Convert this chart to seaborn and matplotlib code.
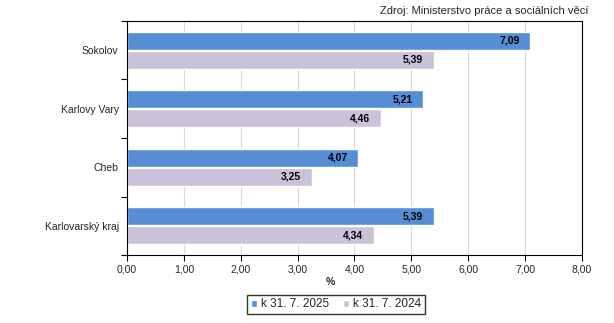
import matplotlib
matplotlib.use("Agg")
import matplotlib.pyplot as plt
import seaborn as sns
import pandas as pd

categories = ["Sokolov", "Karlovy Vary", "Cheb", "Karlovarský kraj"]
series_names = ["k 31. 7. 2025", "k 31. 7. 2024"]
values_2025 = [7.09, 5.21, 4.07, 5.39]
values_2024 = [5.39, 4.46, 3.25, 4.34]
colors = ["#558ED5", "#CCC1DA"]
xticks = [0, 1, 2, 3, 4, 5, 6, 7, 8]

sns.set_theme(style="white")
plt.rcParams["font.family"] = ["Liberation Sans", "DejaVu Sans"]
plt.rcParams["font.size"] = 7.5

df = pd.DataFrame({
    "kat": categories * 2,
    "serie": [series_names[0]] * 4 + [series_names[1]] * 4,
    "hodnota": values_2025 + values_2024,
})

fig = plt.figure(figsize=(6.14, 3.23), dpi=100)
ax = fig.add_axes([0.2068, 0.2105, 0.741, 0.7245])
sns.barplot(data=df, y="kat", x="hodnota", hue="serie", orient="h",
            palette=colors, width=0.66, ax=ax, saturation=1, gap=0.06)

ax.set_xlim(0, 8)
ax.set_xticks(xticks)
ax.set_xticklabels([f"{v:.2f}".replace(".", ",") for v in xticks], fontsize=7.5)
ax.set_xlabel("%", fontsize=7.5, fontweight="bold", labelpad=4)
ax.xaxis.set_label_coords(0.446, -0.095)
ax.set_ylabel("")
ax.tick_params(axis="y", labelsize=7.5, length=0, pad=6)
ax.set_ylim(3.5, -0.5)
# category boundary ticks
ax.set_yticks([-0.5, 0.5, 1.5, 2.5, 3.5], minor=True)
ax.tick_params(axis="y", which="minor", length=4, width=0.8, color="black", direction="out", left=True)
ax.tick_params(axis="x", length=4, width=0.8, color="black", direction="out", bottom=True, pad=3)
ax.grid(axis="x", color="#D9D9D9", linewidth=0.8)
ax.set_axisbelow(True)
for s in ax.spines.values():
    s.set_color("black")
    s.set_linewidth(0.8)

for cont in ax.containers:
    labels = [f"{w:.2f}".replace(".", ",") for w in cont.datavalues]
    ax.bar_label(cont, labels=labels, padding=-22, fontsize=7.5, fontweight="bold", color="black")

handles, labs = ax.get_legend_handles_labels()
ax.legend(handles, labs, loc="upper center", bbox_to_anchor=(0.459, -0.145), ncol=2,
          frameon=True, fancybox=False, edgecolor="black", fontsize=8.5,
          handlelength=0.55, handleheight=0.55, handletextpad=0.3, columnspacing=1.2,
          borderpad=0.3)

fig.text(0.958, 0.98, "Zdroj: Ministerstvo práce a sociálních věcí", ha="right", va="top", fontsize=8)

fig.savefig("out.png", dpi=100)
